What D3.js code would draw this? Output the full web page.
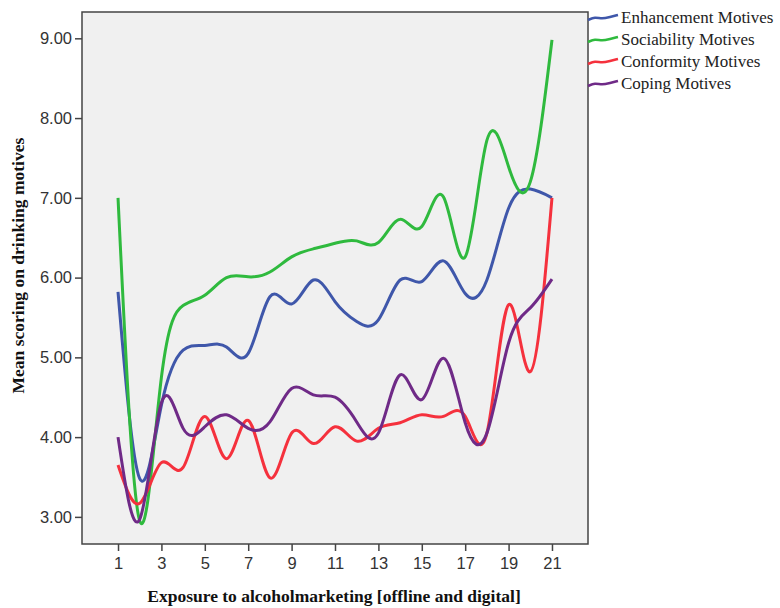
<!DOCTYPE html>
<html>
<head>
<meta charset="utf-8">
<script src="https://cdn.jsdelivr.net/npm/d3@7"></script>
<style>
  body { margin: 0; background: #fff; }
  .tick text { font-family: "Liberation Sans", Arial, sans-serif; font-size: 16.5px; fill: #333; }
  .axisTitle { font-family: "Liberation Serif", "Times New Roman", serif; font-weight: bold; font-size: 17.5px; fill: #111; }
  .legendText { font-family: "Liberation Serif", "Times New Roman", serif; font-size: 17px; fill: #222; }
</style>
</head>
<body>
<div id="chart"></div>
<script>
var svgWidth = 780;
var svgHeight = 608;
var plotmargin = { top: 12, right: 192, bottom: 64, left: 82 };
var plotwidth = svgWidth - plotmargin.left - plotmargin.right;
var plotheight = svgHeight - plotmargin.top - plotmargin.bottom;

// exposure levels
var exposure = [1, 2, 3, 4, 5, 6, 7, 8, 9, 10, 11, 12, 13, 14, 15, 16, 17, 18, 19, 20, 21];
var enhancement = [5.82, 3.48, 4.40, 5.09, 5.15, 5.13, 5.05, 5.76, 5.67, 5.97, 5.70, 5.45, 5.47, 5.97, 5.95, 6.21, 5.80, 5.97, 6.87, 7.11, 7.00];
var sociability = [7.00, 2.95, 4.75, 5.65, 5.78, 6.00, 6.01, 6.07, 6.26, 6.36, 6.43, 6.46, 6.44, 6.73, 6.64, 7.01, 6.26, 7.72, 7.39, 7.20, 8.98];
var conformity = [3.65, 3.17, 3.68, 3.62, 4.26, 3.73, 4.21, 3.49, 4.05, 3.92, 4.13, 3.95, 4.11, 4.18, 4.28, 4.26, 4.26, 4.05, 5.66, 4.82, 7.00];
var coping = [4.00, 2.97, 4.43, 4.11, 4.13, 4.28, 4.11, 4.19, 4.61, 4.53, 4.50, 4.19, 4.05, 4.78, 4.47, 4.99, 4.18, 4.05, 5.18, 5.62, 5.98];

var seriesNames = ["Enhancement Motives", "Sociability Motives", "Conformity Motives", "Coping Motives"];
var seriesColors = ["#3f57aa", "#2fba3e", "#f5313d", "#6f2a87"];
var seriesValues = [enhancement, sociability, conformity, coping];

var xTicks = [1, 3, 5, 7, 9, 11, 13, 15, 17, 19, 21];
var yTicks = [3, 4, 5, 6, 7, 8, 9];

var svg = d3.select("#chart")
  .append("svg")
  .attr("width", svgWidth)
  .attr("height", svgHeight);

var chartGroup = svg.append("g")
  .attr("transform", `translate(${plotmargin.left}, ${plotmargin.top})`);

var x = d3.scaleLinear().domain([-0.66, 22.66]).range([0, plotwidth]);
var y = d3.scaleLinear().domain([2.66, 9.33]).range([plotheight, 0]);

// plot background
chartGroup.append("rect")
  .attr("width", plotwidth)
  .attr("height", plotheight)
  .attr("fill", "#f0f0f0")
  .attr("stroke", "#444")
  .attr("stroke-width", 1.5);

var xaxis = d3.axisBottom(x).tickValues(xTicks).tickFormat(d3.format("d")).tickSizeInner(7).tickSizeOuter(0).tickPadding(6);
var yaxis = d3.axisLeft(y).tickValues(yTicks).tickFormat(d3.format(".2f")).tickSizeInner(7).tickSizeOuter(0).tickPadding(3);

var gx = chartGroup.append("g")
  .attr("transform", `translate(0, ${plotheight})`)
  .call(xaxis);
var gy = chartGroup.append("g")
  .call(yaxis);
[gx, gy].forEach(g => {
  g.select(".domain").remove();
  g.selectAll(".tick line").attr("stroke", "#444").attr("stroke-width", 1.5);
});
gx.selectAll(".tick text").attr("font-family", "Liberation Serif, serif");

// lines
var line = d3.line()
  .x((d, i) => x(exposure[i]))
  .y(d => y(d))
  .curve(d3.curveNatural);

chartGroup.append("clipPath").attr("id", "plotclip")
  .append("rect").attr("width", plotwidth).attr("height", plotheight);

chartGroup.append("g")
  .attr("clip-path", "url(#plotclip)")
  .selectAll("path")
  .data(seriesValues)
  .enter()
  .append("path")
  .attr("d", d => line(d))
  .attr("fill", "none")
  .attr("stroke", (d, i) => seriesColors[i])
  .attr("stroke-width", 3)
  .attr("stroke-linejoin", "round");

// axis titles
chartGroup.append("text")
  .attr("class", "axisTitle")
  .attr("text-anchor", "middle")
  .attr("x", 252)
  .attr("y", plotheight + 58)
  .text("Exposure to alcoholmarketing [offline and digital]");

chartGroup.append("text")
  .attr("class", "axisTitle")
  .attr("text-anchor", "middle")
  .attr("transform", `translate(-58, ${y(6) - 12}) rotate(-90)`)
  .text("Mean scoring on drinking motives");

// legend
var wave = d3.line().curve(d3.curveBasis);
var legend = svg.append("g").attr("transform", "translate(588, 0)");
var rows = legend.selectAll("g")
  .data(seriesNames)
  .enter()
  .append("g")
  .attr("transform", (d, i) => `translate(0, ${17 + i * 22})`);
rows.append("path")
  .attr("d", wave([[0, 3], [7, 0], [14, 2], [22, 0], [30, -2]]))
  .attr("fill", "none")
  .attr("stroke", (d, i) => seriesColors[i])
  .attr("stroke-width", 2.5);
rows.append("text")
  .attr("class", "legendText")
  .attr("x", 33)
  .attr("y", 6)
  .text(d => d);
</script>
</body>
</html>
